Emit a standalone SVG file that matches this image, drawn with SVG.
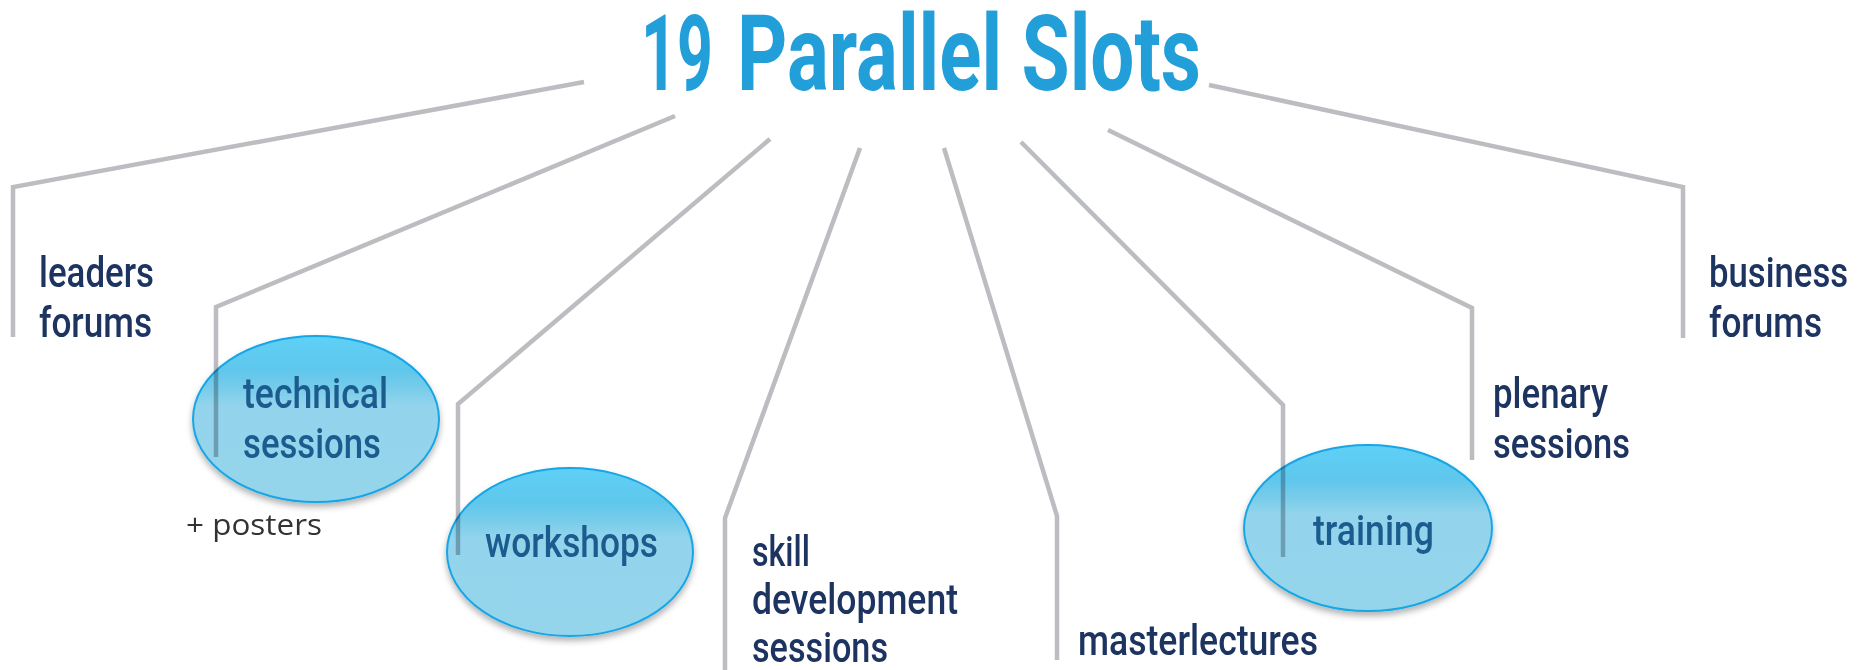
<svg xmlns="http://www.w3.org/2000/svg" width="1858" height="670" viewBox="0 0 1858 670">
  <style>
    .conn { fill: none; stroke: #bcbdc1; stroke-width: 4.5; stroke-linejoin: miter; stroke-linecap: butt; }
    .lbl { font-family: Roboto, "Liberation Sans", sans-serif; font-weight: 500; font-size: 42px; fill: #1d3461; }
    .inl { font-family: Roboto, "Liberation Sans", sans-serif; font-weight: 500; font-size: 42px; fill: #1b5c8e; }
    .note { font-family: "Open Sans", "Liberation Sans", sans-serif; font-size: 30px; fill: #333333; }
    .title { font-family: Roboto, "Liberation Sans", sans-serif; font-weight: 700; font-size: 106px; fill: #229ed9; }
    .bubble { fill: url(#bubbleGrad); stroke: #18a6e6; stroke-width: 2; mix-blend-mode: multiply; }
  </style>
  <defs>
    <linearGradient id="bubbleGrad" x1="0" y1="0" x2="0" y2="1">
      <stop offset="0" stop-color="#5fd0f6"/>
      <stop offset="0.2" stop-color="#5ec7ec"/>
      <stop offset="0.3" stop-color="#74cbea"/>
      <stop offset="0.42" stop-color="#93d4ec"/>
      <stop offset="1" stop-color="#95d5ec"/>
    </linearGradient>
    <filter id="shadow" x="-10%" y="-10%" width="120%" height="130%">
      <feDropShadow dx="0" dy="4" stdDeviation="3" flood-color="#000000" flood-opacity="0.3"/>
    </filter>
  </defs>

  <g id="title">
    <text class="title" transform="translate(641,90) scale(0.6,1)" x="0" y="0" font-weight="900" textLength="120" lengthAdjust="spacingAndGlyphs">19</text>
    <text class="title" transform="translate(737,90) scale(0.746,1)" x="0" y="0" textLength="622" lengthAdjust="spacingAndGlyphs">Parallel Slots</text>
  </g>

  <g id="connectors">
    <polyline class="conn" points="584,82 13,187 13,337"/>
    <polyline class="conn" points="675,116 216,307 216,457"/>
    <polyline class="conn" points="770,139 458,404 458,555"/>
    <polyline class="conn" points="860,148 725,518 725,670"/>
    <polyline class="conn" points="944,148 1057,516 1057,660"/>
    <polyline class="conn" points="1021,142 1283,405 1283,557"/>
    <polyline class="conn" points="1108,130 1472,308 1472,460"/>
    <polyline class="conn" points="1209,85 1683,187 1683,338"/>
  </g>

  <g id="leaders-forums">
    <text class="lbl" x="39" y="287" textLength="115" lengthAdjust="spacingAndGlyphs">leaders</text>
    <text class="lbl" x="39" y="337" textLength="113" lengthAdjust="spacingAndGlyphs">forums</text>
  </g>

  <g id="technical-sessions">
    <ellipse class="bubble" cx="316" cy="419" rx="123" ry="83" filter="url(#shadow)"/>
    <text class="inl" x="243" y="408" textLength="145" lengthAdjust="spacingAndGlyphs">technical</text>
    <text class="inl" x="243" y="458" textLength="138" lengthAdjust="spacingAndGlyphs">sessions</text>
    <text class="note" x="186" y="535" textLength="136" lengthAdjust="spacingAndGlyphs">+ posters</text>
  </g>

  <g id="workshops">
    <ellipse class="bubble" cx="570" cy="552" rx="123" ry="84" filter="url(#shadow)"/>
    <text class="inl" x="485" y="557" textLength="173" lengthAdjust="spacingAndGlyphs">workshops</text>
  </g>

  <g id="skill-development-sessions">
    <text class="lbl" x="752" y="566" textLength="58" lengthAdjust="spacingAndGlyphs">skill</text>
    <text class="lbl" x="752" y="614" textLength="206" lengthAdjust="spacingAndGlyphs">development</text>
    <text class="lbl" x="752" y="662" textLength="136" lengthAdjust="spacingAndGlyphs">sessions</text>
  </g>

  <g id="masterlectures">
    <text class="lbl" x="1078" y="655" textLength="240" lengthAdjust="spacingAndGlyphs">masterlectures</text>
  </g>

  <g id="training">
    <ellipse class="bubble" cx="1368" cy="528" rx="124" ry="83" filter="url(#shadow)"/>
    <text class="inl" x="1313" y="545" textLength="121" lengthAdjust="spacingAndGlyphs">training</text>
  </g>

  <g id="plenary-sessions">
    <text class="lbl" x="1493" y="408" textLength="115" lengthAdjust="spacingAndGlyphs">plenary</text>
    <text class="lbl" x="1493" y="458" textLength="137" lengthAdjust="spacingAndGlyphs">sessions</text>
  </g>

  <g id="business-forums">
    <text class="lbl" transform="translate(1709,287) scale(0.8,1)" x="0" y="0" textLength="174" lengthAdjust="spacingAndGlyphs">business</text>
    <text class="lbl" x="1709" y="337" textLength="113" lengthAdjust="spacingAndGlyphs">forums</text>
  </g>
</svg>
